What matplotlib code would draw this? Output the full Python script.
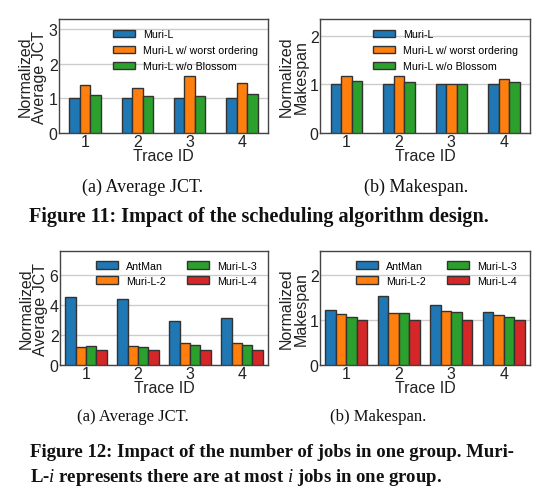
import matplotlib
matplotlib.use("Agg")
import matplotlib.pyplot as plt
import numpy as np

plt.rcParams['font.family'] = ['Liberation Sans', 'DejaVu Sans']
plt.rcParams['mathtext.fontset'] = 'custom'
plt.rcParams['mathtext.it'] = 'Liberation Serif:italic'
plt.rcParams['mathtext.rm'] = 'Liberation Serif'

traces = ['1', '2', '3', '4']

# Figure 11 (a) Average JCT
f11_labels = ['Muri-L', 'Muri-L w/ worst ordering', 'Muri-L w/o Blossom']
f11_jct_murl = [1.0, 1.0, 1.0, 1.0]
f11_jct_worst = [1.38, 1.29, 1.65, 1.43]
f11_jct_noblossom = [1.11, 1.08, 1.08, 1.12]
# Figure 11 (b) Makespan
f11_mk_murl = [1.0, 1.0, 1.0, 1.0]
f11_mk_worst = [1.17, 1.17, 1.0, 1.10]
f11_mk_noblossom = [1.065, 1.045, 1.0, 1.05]

# Figure 12
f12_labels = ['AntMan', 'Muri-L-2', 'Muri-L-3', 'Muri-L-4']
f12_jct_antman = [4.56, 4.38, 2.91, 3.13]
f12_jct_m2 = [1.22, 1.27, 1.47, 1.47]
f12_jct_m3 = [1.29, 1.22, 1.36, 1.33]
f12_jct_m4 = [1.0, 1.0, 1.0, 1.0]
f12_mk_antman = [1.22, 1.52, 1.32, 1.17]
f12_mk_m2 = [1.13, 1.14, 1.20, 1.10]
f12_mk_m3 = [1.07, 1.16, 1.17, 1.07]
f12_mk_m4 = [1.0, 1.0, 1.0, 1.0]

colors = ['#1f77b4', '#ff7f0e', '#2ca02c', '#d62728']
EDGE = '#333333'

fig = plt.figure(figsize=(5.56, 5.02), dpi=100)
W, H = 556, 502

def axes_px(l, t, r, b):
    return fig.add_axes([l / W, 1 - b / H, (r - l) / W, (b - t) / H])

def draw(ax, series, labels, ylim, yticks, ylabel, ncol, legend_anchor, labelspacing):
    n = len(series)
    x = np.arange(1, len(traces) + 1)
    w = 0.2
    for i, (vals, lab) in enumerate(zip(series, labels)):
        off = (i - (n - 1) / 2) * w
        ax.bar(x + off, vals, w, color=colors[i], edgecolor=EDGE,
               linewidth=1.0, label=lab, zorder=3)
    ax.set_xlim(0.5, 4.5)
    ax.set_ylim(*ylim)
    ax.set_yticks(yticks)
    ax.set_xticks(x)
    ax.set_xticklabels(traces)
    ax.grid(axis='y', color='#cccccc', linewidth=1.0, zorder=0)
    ax.set_axisbelow(True)
    for s in ax.spines.values():
        s.set_color('#444444')
        s.set_linewidth(1.0)
    ax.tick_params(length=0, labelsize=11.5, pad=1, colors='#222222')
    ax.set_xlabel('Trace ID', fontsize=11.5, labelpad=-1, color='#222222')
    ax.set_ylabel(ylabel, fontsize=11.5, labelpad=1, linespacing=0.95, color='#222222')
    ax.legend(ncol=ncol, frameon=False, fontsize=7.7, loc='upper left',
              bbox_to_anchor=legend_anchor, handlelength=2.05, handleheight=0.7,
              labelspacing=labelspacing, columnspacing=2.0, borderaxespad=0,
              borderpad=0, handletextpad=0.75)

ax1 = axes_px(59, 20, 268, 134)
draw(ax1, [f11_jct_murl, f11_jct_worst, f11_jct_noblossom], f11_labels,
     (0, 3.29), [0, 1, 2, 3], 'Normalized\nAverage JCT', 1, (0.258, 0.91), 0.55)

ax2 = axes_px(320, 20, 530, 134)
draw(ax2, [f11_mk_murl, f11_mk_worst, f11_mk_noblossom], f11_labels,
     (0, 2.34), [0, 1, 2], 'Normalized\nMakespan', 1, (0.252, 0.91), 0.55)

ax3 = axes_px(60, 252, 268, 366)
draw(ax3, [f12_jct_antman, f12_jct_m2, f12_jct_m3, f12_jct_m4], f12_labels,
     (0, 7.6), [0, 2, 4, 6], 'Normalized\nAverage JCT', 2, (0.173, 0.915), 0.45)

ax4 = axes_px(320, 252, 530, 366)
draw(ax4, [f12_mk_antman, f12_mk_m2, f12_mk_m3, f12_mk_m4], f12_labels,
     (0, 2.52), [0, 1, 2], 'Normalized\nMakespan', 2, (0.171, 0.915), 0.45)

serif = ['Liberation Serif', 'DejaVu Serif']
fig.text(142 / W, 1 - 187 / H, '(a) Average JCT.', ha='center', va='center',
         fontsize=13, family=serif, color='#111111')
fig.text(416 / W, 1 - 187 / H, '(b) Makespan.', ha='center', va='center',
         fontsize=13, family=serif, color='#111111')
fig.text(258.5 / W, 1 - 217 / H, 'Figure 11: Impact of the scheduling algorithm design.',
         ha='center', va='center', fontsize=14.5, family=serif, weight='bold', color='#111111')

fig.text(133 / W, 1 - 417 / H, '(a) Average JCT.', ha='center', va='center',
         fontsize=12, family=serif, color='#111111')
fig.text(378 / W, 1 - 417 / H, '(b) Makespan.', ha='center', va='center',
         fontsize=12, family=serif, color='#111111')
fig.text(30 / W, 1 - 453 / H, 'Figure 12: Impact of the number of jobs in one group. Muri-',
         ha='left', va='center', fontsize=13.5, family=serif, weight='bold', color='#111111')
fig.text(30 / W, 1 - 478 / H, r'L-$i$ represents there are at most $i$ jobs in one group.',
         ha='left', va='center', fontsize=13.5, family=serif, weight='bold', color='#111111')

fig.savefig('out.png', dpi=100)
